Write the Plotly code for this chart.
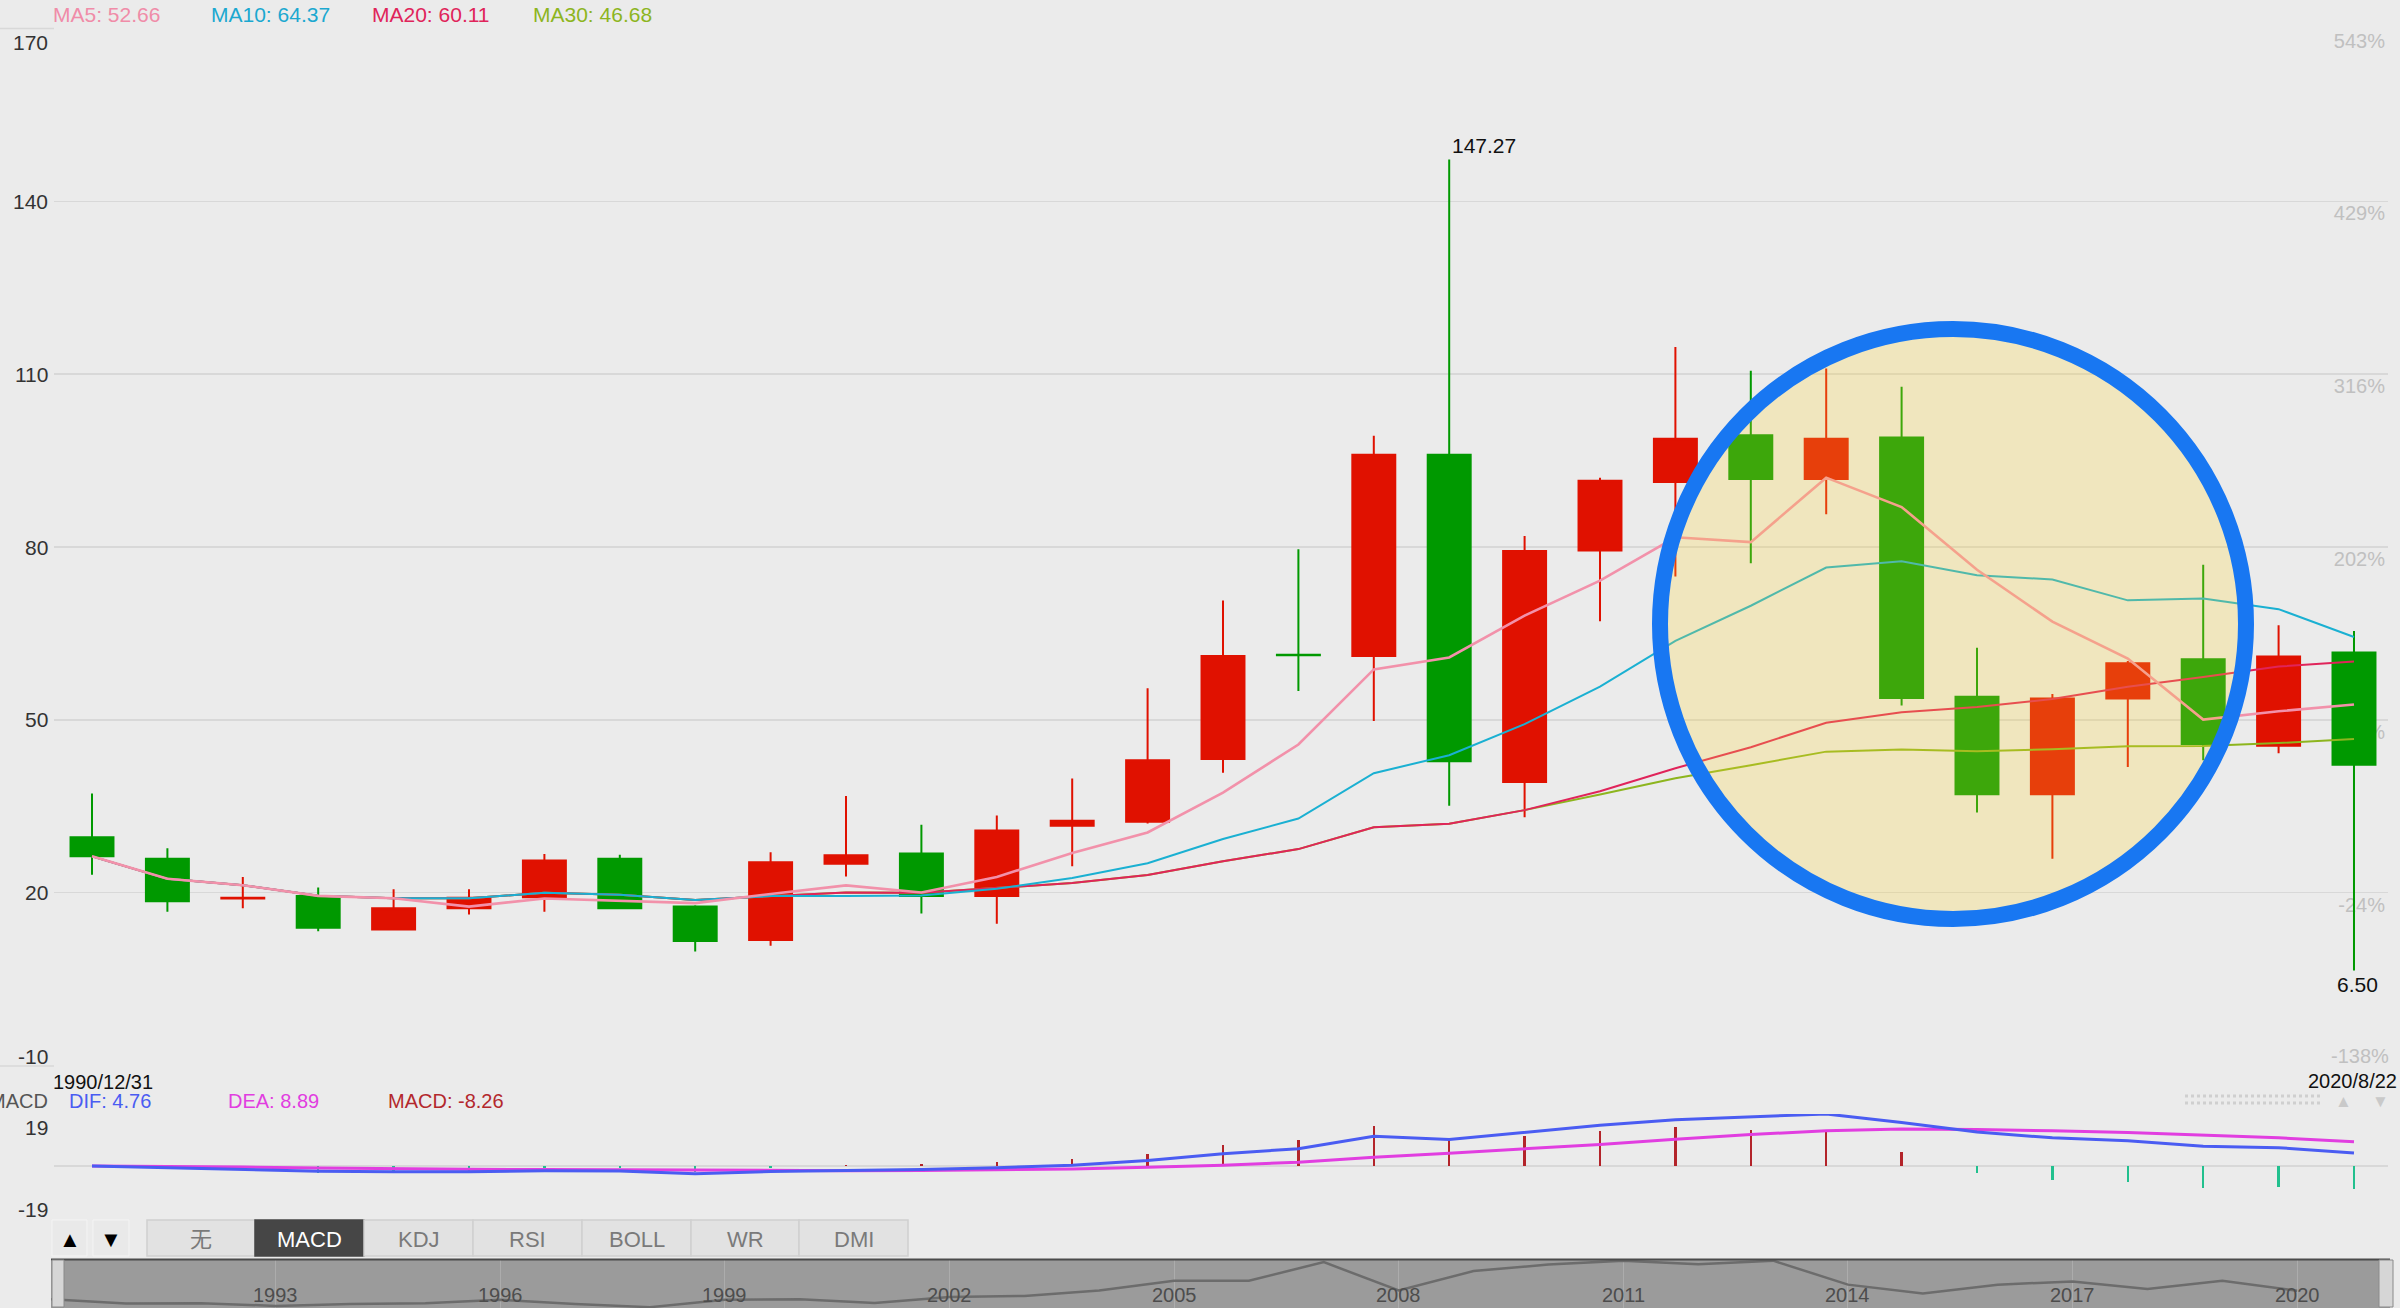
import plotly.graph_objects as go

W, H = 2400, 1308

# ---------------- data ----------------
years = list(range(1990, 2021))
open_ = [29.6, 25.9, 19.0, 19.4, 13.6, 17.3, 19.2, 25.9, 17.6, 11.8, 25.0, 26.8, 19.4, 31.6, 32.3, 43.2,
         61.3, 61.1, 96.0, 39.2, 79.4, 91.3, 99.4, 91.8, 99.0, 54.0, 37.1, 53.7, 60.5, 45.5, 61.7]
high = [37.2, 27.7, 22.7, 20.9, 20.6, 20.6, 26.7, 26.6, 17.8, 27.0, 36.8, 31.8, 33.4, 39.8, 55.5, 70.7,
        79.6, 99.3, 147.27, 81.9, 92.0, 114.7, 110.6, 111.0, 107.8, 62.5, 54.5, 60.2, 76.9, 66.4, 65.4]
low = [23.1, 16.7, 17.3, 13.3, 13.5, 16.2, 16.7, 17.2, 9.8, 10.8, 22.8, 16.4, 14.6, 24.6, 32.0, 40.8,
       55.0, 49.8, 35.1, 33.1, 67.1, 74.9, 77.2, 85.7, 52.5, 33.9, 25.9, 41.8, 43.0, 44.2, 6.50]
close = [26.3, 18.5, 19.1, 13.9, 17.3, 19.1, 25.6, 17.3, 11.6, 25.3, 26.5, 19.4, 30.8, 32.5, 43.0, 61.1,
         61.2, 96.0, 42.8, 79.3, 91.5, 98.8, 91.8, 98.8, 53.8, 37.1, 53.7, 59.8, 45.8, 61.0, 42.2]

ma5 = [26.3, 22.4, 21.3, 19.45, 19.02, 17.58, 19.0, 18.64, 18.18, 19.78, 21.26, 20.02, 22.72, 26.9, 30.44,
       37.36, 45.72, 58.76, 60.82, 68.08, 74.16, 81.68, 80.84, 92.04, 86.94, 76.06, 67.04, 60.64, 50.04,
       51.48, 52.66]
ma10 = [26.3, 22.4, 21.3, 19.45, 19.02, 19.03, 19.97, 19.64, 18.74, 19.4, 19.42, 19.51, 20.68, 22.54, 25.11,
        29.31, 32.87, 40.74, 43.86, 49.26, 55.76, 63.7, 69.8, 76.43, 77.51, 75.11, 74.36, 70.74, 71.04,
        69.21, 64.37]
ma20 = [26.3, 22.4, 21.3, 19.45, 19.02, 19.03, 19.97, 19.64, 18.74, 19.4, 20.05, 19.99, 20.82, 21.66, 23.08,
        25.46, 27.56, 31.36, 31.96, 34.33, 37.59, 41.61, 45.24, 49.49, 51.31, 52.21, 53.62, 55.74, 57.45,
        59.24, 60.11]
ma30 = [26.3, 22.4, 21.3, 19.45, 19.02, 19.03, 19.97, 19.64, 18.74, 19.4, 20.05, 19.99, 20.82, 21.66, 23.08,
        25.46, 27.56, 31.36, 31.96, 34.33, 37.05, 39.86, 42.12, 44.48, 44.85, 44.55, 44.89, 45.43, 45.44,
        45.96, 46.68]

dif = [0.0, -0.6, -1.2, -1.9, -2.1, -2.1, -1.7, -1.8, -2.8, -2.0, -1.6, -1.3, -0.6, 0.3, 2.0, 4.5,
       6.3, 10.9, 9.7, 12.2, 14.9, 16.9, 17.9, 19.0, 15.9, 12.4, 10.3, 9.2, 7.2, 6.7, 4.76]
dea = [0.0, -0.1, -0.4, -0.7, -1.0, -1.2, -1.3, -1.4, -1.7, -1.7, -1.7, -1.6, -1.4, -1.1, -0.5, 0.3,
       1.4, 3.2, 4.7, 6.3, 7.9, 9.8, 11.5, 12.9, 13.5, 13.3, 12.9, 12.2, 11.2, 10.3, 8.89]
macd = [0.0, -1.0, -1.6, -2.4, -2.2, -1.8, -0.8, -0.8, -2.2, -0.6, 0.2, 0.6, 1.6, 2.5, 4.3, 7.7,
        9.4, 14.7, 9.8, 11.1, 12.9, 14.2, 13.2, 12.8, 5.0, -2.6, -5.2, -6.0, -8.2, -7.5, -8.26]

price_ticks = [-10, 20, 50, 80, 110, 140, 170]
pct_labels = ['-138%', '-24%', '88%', '202%', '316%', '429%', '543%']
macd_ticks = [-19, 0, 19]
nav_years = [1993, 1996, 1999, 2002, 2005, 2008, 2011, 2014, 2017, 2020]
buttons = ['无', 'MACD', 'KDJ', 'RSI', 'BOLL', 'WR', 'DMI']
ma_header = [('MA5: 52.66', '#f08ca8'), ('MA10: 64.37', '#1ba8d0'),
             ('MA20: 60.11', '#e0245a'), ('MA30: 46.68', '#8db51e')]
macd_header = [('DIF: 4.76', '#4a5cf2'), ('DEA: 8.89', '#e13ee0'), ('MACD: -8.26', '#b3282d')]

# ---------------- helpers ----------------
FONT = 'Liberation Sans, Arial, Helvetica, sans-serif'
FS = 21


def px(x):
    return x / W


def py(y):
    return 1 - y / H


fig = go.Figure()

fig.add_trace(go.Candlestick(
    x=years, open=open_, high=high, low=low, close=close,
    increasing=dict(line=dict(color='#e01100', width=2), fillcolor='#e01100'),
    decreasing=dict(line=dict(color='#009900', width=2), fillcolor='#009900'),
    xaxis='x', yaxis='y', hoverinfo='skip'))

for vals, col, wd in [(ma30, '#8db51e', 2), (ma20, '#e0245a', 2), (ma10, '#1ab0d2', 2), (ma5, '#f291aa', 2.6)]:
    fig.add_trace(go.Scatter(x=years, y=vals, mode='lines', line=dict(color=col, width=wd),
                             xaxis='x', yaxis='y', hoverinfo='skip'))

# MACD panel
fig.add_trace(go.Bar(x=years, y=macd, width=0.03,
                     marker=dict(color=['#b3242a' if v >= 0 else '#22c08e' for v in macd], line=dict(width=0)),
                     xaxis='x2', yaxis='y2', hoverinfo='skip'))
fig.add_trace(go.Scatter(x=years, y=dea, mode='lines', line=dict(color='#e13ee0', width=3),
                         xaxis='x2', yaxis='y2', hoverinfo='skip'))
fig.add_trace(go.Scatter(x=years, y=dif, mode='lines', line=dict(color='#4a5cf2', width=3),
                         xaxis='x2', yaxis='y2', hoverinfo='skip'))

# navigator
fig.add_trace(go.Scatter(x=years, y=close, mode='lines', line=dict(color='#6c6c6c', width=2.5),
                         xaxis='x3', yaxis='y3', hoverinfo='skip'))

XR = [1989.496, 2020.451]
XD = [px(54), px(2388)]

fig.update_layout(
    width=W, height=H, margin=dict(l=0, r=0, t=0, b=0),
    paper_bgcolor='#ebebeb', plot_bgcolor='#ebebeb',
    showlegend=False, boxgap=0.186, boxgroupgap=0.3, bargap=0,
    font=dict(family=FONT, size=FS, color='#333'),
    xaxis=dict(domain=XD, range=XR, visible=False, rangeslider=dict(visible=False), fixedrange=True),
    yaxis=dict(domain=[py(1065.5), py(28.5)], range=[-10, 170], side='right',
               tickmode='array', tickvals=price_ticks, ticktext=[''] + pct_labels[1:],
               ticklabelposition='inside', ticklabelshift=12, ticklabelstandoff=0,
               layer='below traces', tickfont=dict(color='#c0c0c0', size=20, family=FONT),
               showgrid=True, gridcolor='#d8d8d8', gridwidth=1.5, zeroline=False, showline=False,
               ticks='', fixedrange=True),
    xaxis2=dict(domain=XD, range=XR, visible=False, anchor='y2', matches='x'),
    yaxis2=dict(domain=[py(1218), py(1114)], range=[-19, 19], anchor='x2',
                tickmode='array', tickvals=macd_ticks, showticklabels=False,
                showgrid=True, gridcolor='#d8d8d8', gridwidth=1.5, zeroline=False, showline=False, ticks=''),
    xaxis3=dict(domain=[px(51), px(2390)], range=[1990.0, 2021.24], anchor='y3',
                tickmode='array', tickvals=nav_years, showticklabels=False, showgrid=True,
                gridcolor='#acacac', gridwidth=1, zeroline=False, showline=False, ticks=''),
    yaxis3=dict(domain=[0, py(1260)], range=[10, 100], anchor='x3', visible=False),
)

ann = []
shapes = []


def text(t, x, y, xa='left', ya='middle', size=FS, color='#333', xref='paper', yref='paper', **kw):
    ann.append(dict(text=t, x=x, y=y, xref=xref, yref=yref, xanchor=xa, yanchor=ya, showarrow=False,
                    font=dict(size=size, color=color, family=kw.pop('family', FONT)), **kw))


# MA header
for (txt, col), x0 in zip(ma_header, [51, 209, 370, 531]):
    text(txt, px(x0), py(15), color=col)

# left price labels
for v in price_ticks:
    ys = -13.5 if v == 170 else (9.5 if v == -10 else 0)
    text(str(v), px(50), v, xa='right', yref='y', yshift=ys, color='#333')
# bottom-right percent label
text(pct_labels[0], px(2391), -10, xa='right', yref='y', yshift=9.5, size=20, color='#c0c0c0')

# extreme labels
text('147.27', years[high.index(max(high))], max(high), xa='left', ya='bottom', xref='x', yref='y',
     xshift=1, yshift=0, color='#111')
text('6.50', years[low.index(min(low))], min(low), xa='center', ya='top', xref='x', yref='y',
     xshift=4, yshift=-1, color='#111')

# dates
text('1990/12/31', px(51), py(1082), size=20, color='#111')
text('2020/8/22', px(2399), py(1081), xa='right', size=20, color='#111')

# MACD header
text('MACD', px(50), py(1101), xa='right', size=20, color='#555')
for (txt, col), x0 in zip(macd_header, [67, 226, 386]):
    text(txt, px(x0), py(1101), size=20, color=col)

# MACD axis labels
for v in [19, -19]:
    text(str(v), px(50), v, xa='right', yref='y2', yshift=(-13 if v > 0 else 9), color='#333')

# scroll triangles + dots
text('▲', px(2343), py(1101), xa='center', size=17, color='#c9c9c9')
text('▼', px(2380), py(1101), xa='center', size=17, color='#c9c9c9')
for yy in [1096, 1103]:
    shapes.append(dict(type='line', xref='paper', yref='paper', x0=px(2185), x1=px(2320), y0=py(yy), y1=py(yy),
                       line=dict(color='#cfcfcf', width=3, dash='dot')))

# outer border lines of main panel
for yy in [28.5, 1066]:
    shapes.append(dict(type='line', xref='paper', yref='paper', x0=0, x1=px(54), y0=py(yy), y1=py(yy),
                       line=dict(color='#d8d8d8', width=1.5), layer='below'))

# buttons
for lbl, x0, x1 in [('▲', 52, 87), ('▼', 93, 129)]:
    shapes.append(dict(type='rect', xref='paper', yref='paper', x0=px(x0), x1=px(x1), y0=py(1256), y1=py(1220),
                       fillcolor='#e9e9e9', line=dict(color='#f4f4f4', width=1)))
    text(lbl, px((x0 + x1) / 2), py(1239), xa='center', size=22, color='#000')
bx = [147, 255, 364, 473, 582, 691, 799, 908]
for i, lbl in enumerate(buttons):
    active = lbl == 'MACD'
    shapes.append(dict(type='rect', xref='paper', yref='paper', x0=px(bx[i]), x1=px(bx[i + 1]),
                       y0=py(1256), y1=py(1220),
                       fillcolor='#464646' if active else '#e2e2e2',
                       line=dict(color='#464646' if active else '#d0d0d0', width=1.5)))
    text(lbl, px((bx[i] + bx[i + 1]) / 2), py(1239), xa='center', size=22,
         color='#ffffff' if active else '#7a7a7a',
         family='Liberation Sans, Noto Sans CJK SC, sans-serif')

# navigator background & handles
shapes.append(dict(type='rect', xref='paper', yref='paper', x0=px(51), x1=px(2390), y0=0, y1=py(1259),
                   fillcolor='#9b9b9b', line=dict(width=0), layer='below'))
shapes.append(dict(type='line', xref='paper', yref='paper', x0=px(51), x1=px(2390), y0=py(1259.5),
                   y1=py(1259.5), line=dict(color='#4a4a4a', width=2)))
for x0, x1 in [(52, 64), (2379, 2393)]:
    shapes.append(dict(type='rect', xref='paper', yref='paper', x0=px(x0), x1=px(x1), y0=py(1307), y1=py(1260),
                       fillcolor='#d6d6d6', line=dict(color='#8a8a8a', width=1)))
for yv in nav_years:
    text(str(yv), yv, py(1295), xa='center', xref='x3', size=20, color='#4d4d4d')

# highlight circle
shapes.append(dict(type='circle', xref='paper', yref='paper', x0=px(1660), x1=px(2246), y0=py(919), y1=py(329),
                   fillcolor='rgba(255,214,45,0.24)', line=dict(color='#1877f2', width=16), layer='above'))

fig.update_layout(annotations=ann, shapes=shapes)

fig.write_html('out.html', config={'displayModeBar': False, 'staticPlot': True},
               post_script="document.body.style.margin='0';document.body.style.overflow='hidden';")
